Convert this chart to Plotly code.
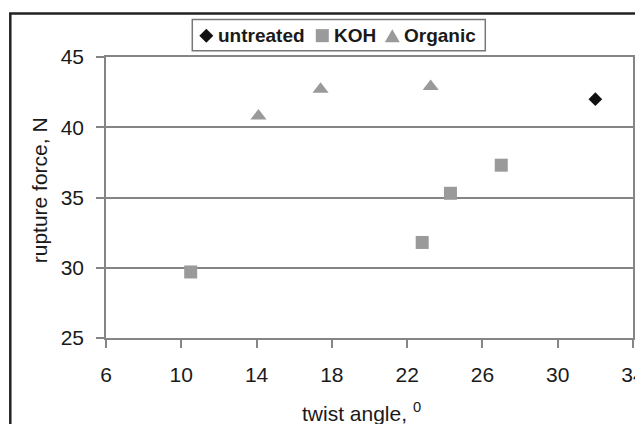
import plotly.graph_objects as go

# Data
untreated_x = [32.0]
untreated_y = [42.0]
koh_x = [10.5, 22.8, 24.3, 27.0]
koh_y = [29.7, 31.8, 35.3, 37.3]
organic_x = [14.1, 17.4, 23.25]
organic_y = [40.8, 42.7, 42.9]

series_names = ["untreated", "KOH", "Organic"]
x_ticks = [6, 10, 14, 18, 22, 26, 30, 34]
y_ticks = [25, 30, 35, 40, 45]

# Layout geometry. Page pixels are screen pixels; the browser body has an
# 8px margin, so figure pixel = page pixel - OFF.
OFF = 8
W, H = 643 - OFF, 424 - OFF
PL, PR, PT, PB = 105.7, 632.7, 57.3, 337.7   # plot area in page pixels
L, T = PL - OFF, PT - OFF
R = W - (PR - OFF)
B = H - (PB - OFF)
pw, ph = PR - PL, PB - PT

def px_x(px):   # page pixel -> paper x
    return (px - PL) / pw

def px_y(py):   # page pixel -> paper y
    return 1 - (py - PT) / ph

FONT = "Liberation Sans, Arial, sans-serif"
TXT = "#1a1a1a"
GRAY_MARK = "#9a9a9a"
GRID = "#858585"
DARK = "#111111"

styles = {
    "untreated": dict(symbol="diamond", size=10.5, color=DARK),
    "KOH": dict(symbol="square", size=13, color=GRAY_MARK),
    "Organic": dict(symbol="triangle-up", size=14, color=GRAY_MARK),
}

fig = go.Figure()
for name, xs, ys in [("untreated", untreated_x, untreated_y),
                     ("KOH", koh_x, koh_y),
                     ("Organic", organic_x, organic_y)]:
    st = styles[name]
    fig.add_trace(go.Scatter(x=xs, y=ys, mode="markers", name=name, showlegend=False,
                             marker=dict(symbol=st["symbol"], size=st["size"], color=st["color"],
                                         line=dict(width=0))))

# Custom legend positioned in page pixels
leg_box = dict(x0=192, x1=485, y0=20, y1=51)
leg_cy = (leg_box["y0"] + leg_box["y1"]) / 2 + 0.5
leg_sym_x = {"untreated": 206, "KOH": 322, "Organic": 392}
leg_txt_x = {"untreated": 216, "KOH": 332, "Organic": 402}

def path_from_px(points):
    return "M " + " L ".join("%.5f,%.5f" % (px_x(a), px_y(b)) for a, b in points) + " Z"

sx, d = leg_sym_x["untreated"], 7
diamond_path = path_from_px([(sx, leg_cy - d), (sx + d, leg_cy), (sx, leg_cy + d), (sx - d, leg_cy)])
sx, s = leg_sym_x["KOH"], 6.5
square_path = path_from_px([(sx - s, leg_cy - s), (sx + s, leg_cy - s), (sx + s, leg_cy + s), (sx - s, leg_cy + s)])
sx, tw, th = leg_sym_x["Organic"], 7.5, 6.5
triangle_path = path_from_px([(sx, leg_cy - th), (sx + tw, leg_cy + th), (sx - tw, leg_cy + th)])

axis_font = dict(family=FONT, size=21, color=TXT)

annotations = []
for name in series_names:
    annotations.append(dict(text="<b>%s</b>" % name, xref="paper", yref="paper",
                            x=px_x(leg_txt_x[name]), y=px_y(leg_cy), xanchor="left", yanchor="middle",
                            showarrow=False, font=dict(family=FONT, size=19, color=TXT)))
# Axis titles
annotations.append(dict(text="twist angle, <sup>0</sup>", xref="paper", yref="paper",
                        x=px_x(361), y=px_y(412), xanchor="center", yanchor="middle",
                        showarrow=False, font=axis_font))
annotations.append(dict(text="rupture force, N", xref="paper", yref="paper",
                        x=px_x(40), y=px_y(190), xanchor="center", yanchor="middle",
                        textangle=-90, showarrow=False, font=axis_font))

shapes = [
    dict(type="rect", xref="paper", yref="paper",
         x0=px_x(10), x1=px_x(700), y0=px_y(520), y1=px_y(14),
         line=dict(color="#222222", width=2.5), layer="below"),
    dict(type="rect", xref="paper", yref="paper",
         x0=px_x(leg_box["x0"]), x1=px_x(leg_box["x1"]),
         y0=px_y(leg_box["y1"]), y1=px_y(leg_box["y0"]),
         line=dict(color="#777777", width=1.5), fillcolor="white", layer="below"),
    dict(type="path", xref="paper", yref="paper", path=diamond_path,
         fillcolor=DARK, line=dict(width=0), layer="above"),
    dict(type="path", xref="paper", yref="paper", path=square_path,
         fillcolor=GRAY_MARK, line=dict(width=0), layer="above"),
    dict(type="path", xref="paper", yref="paper", path=triangle_path,
         fillcolor=GRAY_MARK, line=dict(width=0), layer="above"),
]

fig.update_layout(
    width=W, height=H,
    margin=dict(l=L, r=R, t=T, b=B, autoexpand=False),
    paper_bgcolor="white", plot_bgcolor="white",
    showlegend=False,
    xaxis=dict(range=[6, 34], tickvals=x_ticks, ticktext=[str(v) for v in x_ticks],
               showgrid=False, zeroline=False, showline=True, linecolor=GRID, linewidth=1.5,
               mirror=True, ticks="outside", ticklen=8, tickcolor=GRID, tickwidth=1.5,
               tickfont=axis_font, ticklabelstandoff=9, ticklabeloverflow="allow"),
    yaxis=dict(range=[25, 45], tickvals=y_ticks, ticktext=[str(v) for v in y_ticks],
               showgrid=True, gridcolor=GRID, gridwidth=1.5,
               zeroline=False, showline=True, linecolor=GRID, linewidth=1.5,
               mirror=True, ticks="outside", ticklen=8, tickcolor=GRID, tickwidth=1.5,
               tickfont=axis_font, ticklabelstandoff=8, ticklabeloverflow="allow"),
    annotations=annotations,
    shapes=shapes,
)

fig.write_html("out.html")
